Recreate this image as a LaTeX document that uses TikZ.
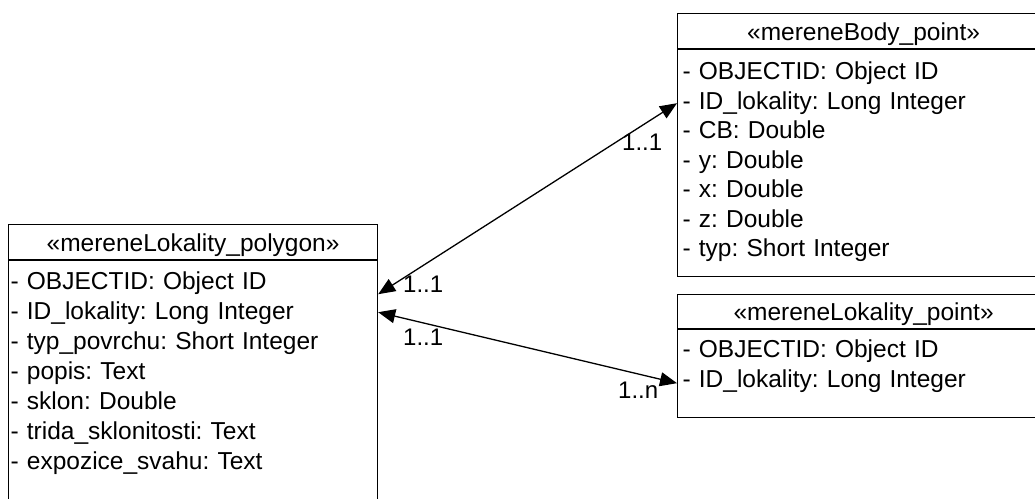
\documentclass[tikz,border=0pt]{standalone}
\usepackage{fontspec}
\setmainfont{Liberation Sans}
\usepackage{tikz}
\usetikzlibrary{arrows.meta,positioning,calc}
\frenchspacing

\begin{document}
\begin{tikzpicture}[x=1pt,y=-1pt,
    head/.style={draw,line width=1.2pt,anchor=north west,minimum height=35pt,
                 inner sep=0pt,font=\fontsize{24.5}{28}\selectfont,
                 text height=18pt,text depth=0pt},
    attrs/.style={draw,line width=1.2pt,anchor=north west,inner xsep=4pt,
                  inner ysep=0pt,align=left},
    assoc/.style={{Triangle[length=17pt,width=14pt]}-{Triangle[length=17pt,width=14pt]},
                  line width=1.3pt},
    mult/.style={anchor=base west,inner sep=0pt,font=\fontsize{24}{28}\selectfont}]
  \useasboundingbox (0,0) rectangle (1035,498);
  \clip (0,0) rectangle (1035,498);

  % Classes
  \node[head,minimum width=369pt] (polygonhead) at (8,224) {«mereneLokality\_polygon»};
  \node[attrs,text width=365pt,inner xsep=2pt,text height=29pt,text depth=252pt,
        font=\fontsize{24.5}{30}\selectfont] (polygon) at (polygonhead.south west)
    {- OBJECTID: Object ID\\
     - ID\_lokality: Long Integer\\
     - typ\_povrchu: Short Integer\\
     - popis: Text\\
     - sklon: Double\\
     - trida\_sklonitosti: Text\\
     - expozice\_svahu: Text};

  \node[head,minimum width=372pt] (bodyhead) at (677,13) {«mereneBody\_point»};
  \node[attrs,text width=362pt,inner xsep=5pt,text height=30pt,text depth=197pt,
        font=\fontsize{24.5}{29.5}\selectfont] (body) at (bodyhead.south west)
    {- OBJECTID: Object ID\\
     - ID\_lokality: Long Integer\\
     - CB: Double\\
     - y: Double\\
     - x: Double\\
     - z: Double\\
     - typ: Short Integer};

  \node[head,minimum width=372pt,minimum height=34pt] (pointhead) at (677,294) {«mereneLokality\_point»};
  \node[attrs,text width=362pt,inner xsep=5pt,text height=28pt,text depth=60pt,
        font=\fontsize{24.5}{30}\selectfont] (point) at (pointhead.south west)
    {- OBJECTID: Object ID\\
     - ID\_lokality: Long Integer};

  % Associations
  \draw[assoc] ($(polygon.north east)+(0,34)$) -- ($(body.north west)+(0,54)$);
  \draw[assoc] ($(polygon.north east)+(0,52)$) -- ($(point.north west)+(0,54)$);

  % Multiplicities
  \node[mult] (m1) at (403,292) {1..1};
  \node[mult] (m2) at (622,150) {1..1};
  \node[mult] (m3) at (403,345) {1..1};
  \node[mult] (m4) at (618,398) {1..n};
\end{tikzpicture}
\end{document}
